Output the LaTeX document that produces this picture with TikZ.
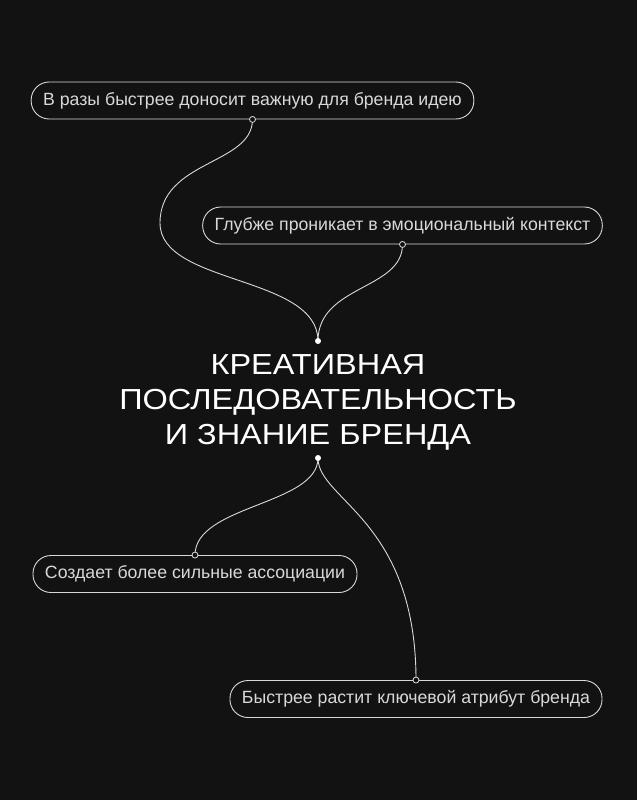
\documentclass[tikz,border=0pt]{standalone}
\usepackage{fontspec}
\setmainfont{Liberation Sans}
\newfontfamily\pillfont{Liberation Sans}
\newfontfamily\titlefont[FakeStretch=1.12]{Liberation Sans}
\definecolor{bg}{HTML}{121212}
\definecolor{wire}{HTML}{D9D9D9}
\tikzset{
	pill/.style={draw=wire, line width=0.9pt, rectangle, rounded corners=18pt, minimum height=37pt, inner xsep=12pt, inner ysep=0pt, text=wire, font=\pillfont\fontsize{17.7}{20}\selectfont},
	link/.style={draw=wire, line width=0.9pt},
	hub/.style={circle, fill=white, inner sep=0pt, minimum size=6pt},
	port/.style={circle, draw=wire, fill=bg, inner sep=0pt, minimum size=6pt, line width=0.8pt}
}
\begin{document}
\begin{tikzpicture}[x=1pt, y=-1pt]
		\fill[bg] (0,0) rectangle (637,800);
		\useasboundingbox (0,0) rectangle (637,800);
		% boxes
		\node[pill] (idea) at (252.5,100.5) {В разы быстрее доносит важную для бренда идею};
		\node[pill] (emotion) at (402.5,225.5) {Глубже проникает в эмоциональный контекст};
		\node[pill] (assoc) at (195,574) {Создает более сильные ассоциации};
		\node[pill] (attr) at (416,699) {Быстрее растит ключевой атрибут бренда};
		% centre
		\node[align=center, text=white, inner sep=0pt, font=\titlefont\fontsize{29}{35}\selectfont] (title) at (318,402.5) {КРЕАТИВНАЯ\\ПОСЛЕДОВАТЕЛЬНОСТЬ\\И ЗНАНИЕ БРЕНДА};
		\coordinate (bend) at (160,223);
		\coordinate (topdot) at (318,341);
		\coordinate (botdot) at (318,458);
		% connectors
		\draw[link] (idea.south) .. controls (252.5,165) and (160,160) .. (bend) .. controls (160,285) and (318,275) .. (topdot);
		\draw[link] (emotion.south) .. controls (402.5,290) and (318,285) .. (topdot);
		\draw[link] (botdot) .. controls (318,505) and (195,505) .. (assoc.north);
		\draw[link] (botdot) .. controls (318,500) and (416,520) .. (attr.north);
		\node[hub] at (topdot) {};
		\node[hub] at (botdot) {};
		\foreach \b in {idea,emotion}
			\node[port] at (\b.south) {};
		\foreach \b in {assoc,attr}
			\node[port] at (\b.north) {};
\end{tikzpicture}
\end{document}
